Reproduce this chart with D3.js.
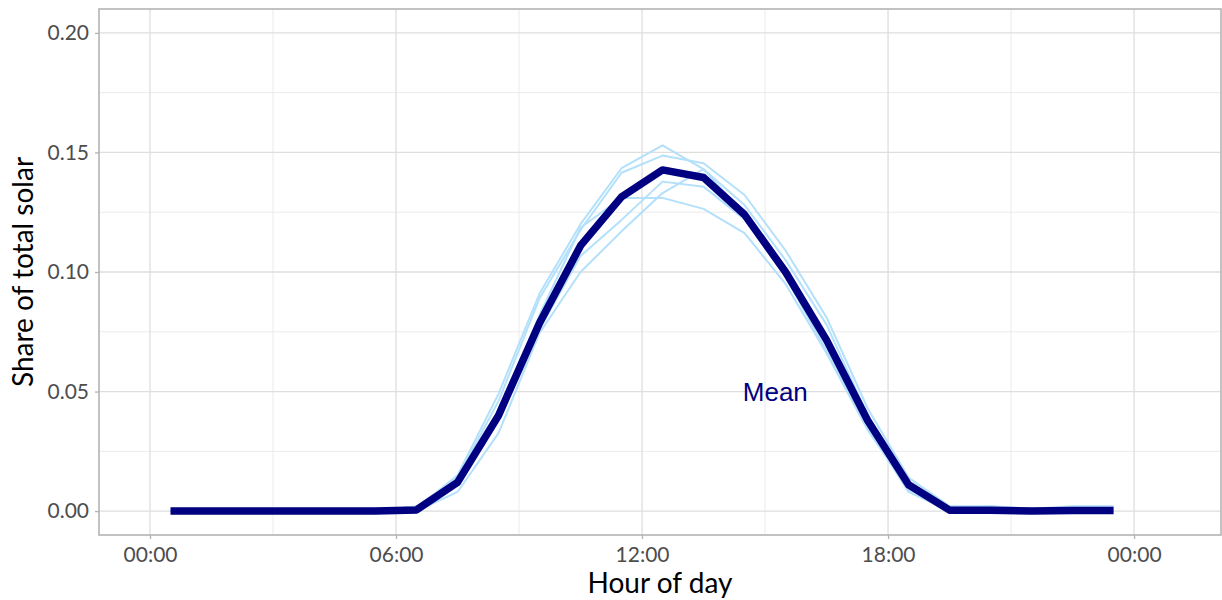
<!DOCTYPE html>
<html>

<head>
    <title>Share of total solar by hour</title>
    <script src="https://cdnjs.cloudflare.com/ajax/libs/d3/7.8.5/d3.min.js"></script>
    <style>
        body { margin: 0; background: #fff; }
        svg { display: block; }
    </style>
</head>

<body>
    <svg id="chart" width="1222" height="600"></svg>
    <script>
        // hour of day (mid-hour points)
        var hours = [0.5, 1.5, 2.5, 3.5, 4.5, 5.5, 6.5, 7.5, 8.5, 9.5, 10.5, 11.5,
            12.5, 13.5, 14.5, 15.5, 16.5, 17.5, 18.5, 19.5, 20.5, 21.5, 22.5, 23.5]

        // individual profiles (light lines)
        var profileA = [0, 0, 0, 0, 0, 0, 0.001, 0.015, 0.049, 0.091, 0.120, 0.1434,
            0.153, 0.143, 0.128, 0.105, 0.078, 0.040, 0.012, 0.001, 0.002, 0.001, 0.002, 0.002]
        var profileB = [0, 0, 0, 0, 0, 0, 0.002, 0.014, 0.046, 0.089, 0.1176, 0.1415,
            0.1487, 0.1455, 0.1322, 0.109, 0.081, 0.043, 0.014, 0.002, 0.002, 0.001, 0.001, 0.001]
        var profileC = [0, 0, 0, 0, 0, 0, 0.000, 0.012, 0.042, 0.082, 0.1185, 0.131,
            0.131, 0.1264, 0.1163, 0.095, 0.066, 0.034, 0.009, 0.000, 0.000, 0.000, 0.000, 0.000]
        var profileD = [0, 0, 0, 0, 0, 0, 0.001, 0.011, 0.038, 0.076, 0.1067, 0.1218,
            0.1378, 0.1357, 0.122, 0.098, 0.067, 0.035, 0.008, 0.000, 0.000, -0.0005, 0.001, 0.001]
        var profileE = [0, 0, 0, 0, 0, 0, 0.000, 0.008, 0.0326, 0.0745, 0.100, 0.117,
            0.133, 0.143, 0.124, 0.100, 0.072, 0.039, 0.012, 0.001, 0.001, 0.000, 0.000, 0.000]

        // mean profile (dark line)
        var meanProfile = [0, 0, 0, 0, 0, 0, 0.0005, 0.012, 0.040, 0.0787, 0.111, 0.1314,
            0.1427, 0.1395, 0.124, 0.100, 0.0715, 0.038, 0.011, 0.0004, 0.0004, 0.0000, 0.0002, 0.0002]

        var xTicks = [0, 6, 12, 18, 24]
        var xMinor = [3, 9, 15, 21]
        var yTicks = [0, 0.05, 0.10, 0.15, 0.20]
        var yMinor = [0.025, 0.075, 0.125, 0.175]

        var meanLabel = { hour: 15.25, value: 0.05, text: "Mean" }

        var margin = { left: 99, top: 9, right: 1, bottom: 65 }
        var width = 1222 - margin.left - margin.right
        var height = 600 - margin.top - margin.bottom

        var x = d3.scaleLinear().domain([-1.244, 26.12]).range([0, width])
        var y = d3.scaleLinear().domain([-0.01, 0.21]).range([height, 0])

        var svg = d3.select("#chart")
        var g = svg.append("g").attr("transform", `translate(${margin.left},${margin.top})`)

        // grid
        g.selectAll("line.yminor").data(yMinor).enter().append("line")
            .attr("x1", 0).attr("x2", width)
            .attr("y1", d => y(d)).attr("y2", d => y(d))
            .style("stroke", "#ebebeb").style("stroke-width", "1px")
        g.selectAll("line.xminor").data(xMinor).enter().append("line")
            .attr("y1", 0).attr("y2", height)
            .attr("x1", d => x(d)).attr("x2", d => x(d))
            .style("stroke", "#ebebeb").style("stroke-width", "1px")
        g.selectAll("line.ymajor").data(yTicks).enter().append("line")
            .attr("x1", 0).attr("x2", width)
            .attr("y1", d => y(d)).attr("y2", d => y(d))
            .style("stroke", "#dedede").style("stroke-width", "1.3px")
        g.selectAll("line.xmajor").data(xTicks).enter().append("line")
            .attr("y1", 0).attr("y2", height)
            .attr("x1", d => x(d)).attr("x2", d => x(d))
            .style("stroke", "#dedede").style("stroke-width", "1.3px")

        // lines
        var line = d3.line()
            .x((d, i) => x(hours[i]))
            .y(d => y(d))

        var profiles = [profileA, profileB, profileC, profileD, profileE]
        g.selectAll("path.profile").data(profiles).enter().append("path")
            .attr("class", "profile")
            .attr("d", line)
            .style("fill", "none")
            .style("stroke", "#b3e0fa")
            .style("stroke-width", "2px")
            .style("stroke-linejoin", "round")

        g.append("path")
            .datum(meanProfile)
            .attr("d", line)
            .style("fill", "none")
            .style("stroke", "#000080")
            .style("stroke-width", "7.5px")
            .style("stroke-linejoin", "round")

        g.append("text")
            .attr("x", x(meanLabel.hour))
            .attr("y", y(meanLabel.value))
            .attr("dy", "0.35em")
            .style("text-anchor", "middle")
            .style("font-family", "Liberation Sans, Arial, sans-serif")
            .style("font-size", "26px")
            .style("fill", "#000080")
            .text(meanLabel.text)

        // panel border
        g.append("rect")
            .attr("x", 0).attr("y", 0)
            .attr("width", width).attr("height", height)
            .style("fill", "none")
            .style("stroke", "#b3b3b3")
            .style("stroke-width", "1.6px")

        // axes
        var fmtHour = d => String(d % 24).padStart(2, "0") + ":00"

        g.append("g")
            .attr("transform", `translate(0,${height})`)
            .call(d3.axisBottom(x).tickValues(xTicks).tickFormat(fmtHour).tickSize(4).tickPadding(8))
        g.append("g")
            .call(d3.axisLeft(y).tickValues(yTicks).tickFormat(d3.format(".2f")).tickSize(4).tickPadding(6))

        svg.selectAll(".domain").remove()
        svg.selectAll(".tick line").style("stroke", "#b3b3b3").style("stroke-width", "1.3px")
        svg.selectAll(".tick text")
            .style("font-family", "Lato, sans-serif")
            .style("font-size", "21px")
            .style("fill", "#4d4d4d")

        svg.append("text")
            .attr("x", margin.left + width / 2)
            .attr("y", 593)
            .style("text-anchor", "middle")
            .style("font-family", "Lato, sans-serif")
            .style("font-size", "28px")
            .style("fill", "#000")
            .text("Hour of day")

        svg.append("text")
            .attr("transform", `translate(33,${margin.top + height / 2}) rotate(-90)`)
            .style("text-anchor", "middle")
            .style("font-family", "Lato, sans-serif")
            .style("font-size", "28px")
            .style("fill", "#000")
            .text("Share of total solar")
    </script>
</body>

</html>
